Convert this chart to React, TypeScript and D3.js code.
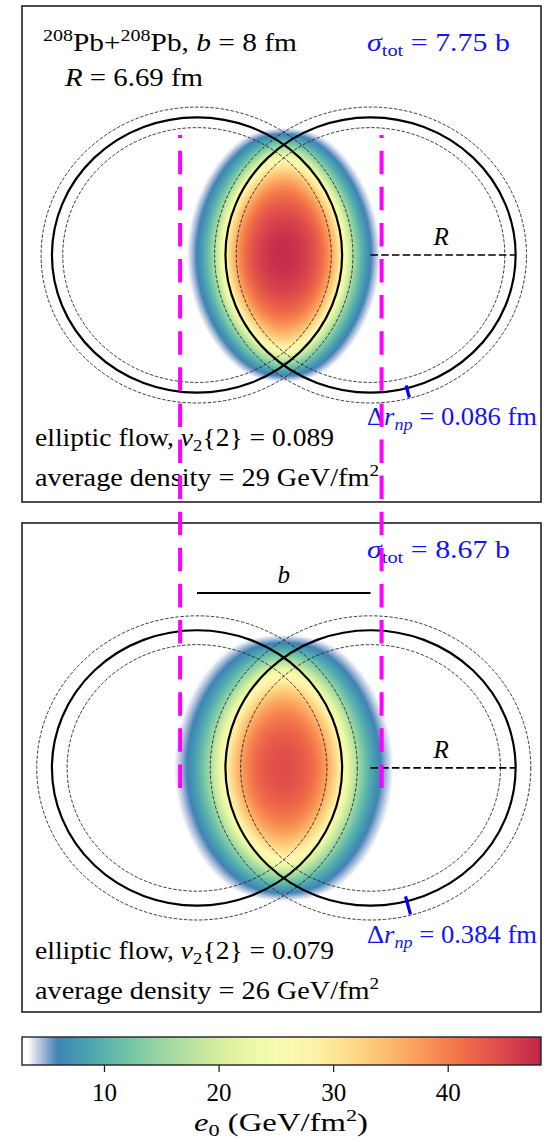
import React, { useMemo } from "react";
import * as d3 from "d3";

// collision set-up, both panels
const impactParam = 8; // fm
const nuclearRadius = 6.69; // fm
const panelIds = [0, 1];
const ringHalfWidth = [0.5, 0.7]; // fm, dashed rings at R +- this
const densityDiffuseness = [0.3, 0.4]; // fm, Woods-Saxon a for the density
const mixExponent = 0.4; // e ~ (T_A T_B)^p
const peakDensity = [47.5, 44.5]; // GeV/fm^2 at the centre
const sigmaTot = ["7.75", "8.67"];
const deltaRnp = ["0.086", "0.384"];
const ellipticFlow = ["0.089", "0.079"];
const avgDensity = ["29", "26"];
const skinTickRadii = [
  [6.55, 7.15],
  [6.45, 7.35],
];
const skinTickAngle = -75.5; // degrees, around the right nucleus
const guideX = [-4.78, 4.51]; // magenta guides
const guideYTop = 5.83; // in top-panel fm
const guideYBottom = -0.97; // in bottom-panel fm

// colour bar
const cbarDomain = [2.8, 48.1];
const cbarTicks = [10, 20, 30, 40];

// layout
const W = 555;
const H = 1142;
const frameX = [22, 541];
const panelY = [
  [6, 502],
  [523, 1012],
];
const panelYDomain = [
  [-12.0, 12.1],
  [-11.86, 11.9],
];
const xDomain = [-12.07, 11.86];
const cbarY = [1037, 1065];

const FONT = "'Liberation Serif', 'DejaVu Serif', serif";
const BLUE = "#1414f0";

const x = d3.scaleLinear().domain(xDomain).range(frameX);
const yScales = panelIds.map((i) =>
  d3.scaleLinear().domain(panelYDomain[i]).range([panelY[i][1], panelY[i][0]])
);
const cx = d3.scaleLinear().domain(cbarDomain).range(frameX);

const clamp = (v: number) => Math.max(0, Math.min(1, v));

// Spectral_r with a fade to white at the low end
function cmapRGBA(v: number) {
  const s = clamp(0.9 - (v - 6.3) * 0.0201);
  const c = d3.rgb(d3.interpolateSpectral(s));
  const a = clamp((v - 3.3) / 2.6);
  return [c.r, c.g, c.b, a * 255];
}

const LUT_N = 512;
const lut = d3.range(LUT_N).map((k) =>
  cmapRGBA(cbarDomain[0] + ((cbarDomain[1] - cbarDomain[0]) * k) / (LUT_N - 1))
);

function lutIndex(v: number) {
  const t = (v - cbarDomain[0]) / (cbarDomain[1] - cbarDomain[0]);
  return Math.max(0, Math.min(LUT_N - 1, Math.round(t * (LUT_N - 1))));
}

// Woods-Saxon thickness function, tabulated
function thicknessTable(R: number, a: number) {
  const ds = 0.02;
  const dz = 0.04;
  const table = d3.range(0, 20 + ds, ds).map((s) => {
    let sum = 0;
    for (let z = 0; z <= 20; z += dz) {
      const r = Math.sqrt(s * s + z * z);
      sum += (1 / (1 + Math.exp((r - R) / a))) * (z === 0 ? 0.5 : 1);
    }
    return 2 * sum * dz;
  });
  return (s: number) => {
    const f = s / ds;
    const k = Math.floor(f);
    if (k >= table.length - 1) return table[table.length - 1];
    const u = f - k;
    return table[k] * (1 - u) + table[k + 1] * u;
  };
}

function densityImage(i: number) {
  const y = yScales[i];
  const T = thicknessTable(nuclearRadius, densityDiffuseness[i]);
  const T0 = T(impactParam / 2);
  const w = frameX[1] - frameX[0];
  const h = panelY[i][1] - panelY[i][0];
  const canvas = document.createElement("canvas");
  canvas.width = w;
  canvas.height = h;
  const ctx = canvas.getContext("2d")!;
  const img = ctx.createImageData(w, h);
  for (let py = 0; py < h; py++) {
    const fy = y.invert(panelY[i][0] + py + 0.5);
    for (let px = 0; px < w; px++) {
      const fx = x.invert(frameX[0] + px + 0.5);
      const tA = T(Math.hypot(fx + impactParam / 2, fy)) / T0;
      const tB = T(Math.hypot(fx - impactParam / 2, fy)) / T0;
      const e = peakDensity[i] * Math.pow(tA * tB, mixExponent);
      const o = (py * w + px) * 4;
      if (e < cbarDomain[0]) continue;
      const c = lut[lutIndex(e)];
      img.data[o] = c[0];
      img.data[o + 1] = c[1];
      img.data[o + 2] = c[2];
      img.data[o + 3] = c[3];
    }
  }
  ctx.putImageData(img, 0, 0);
  return canvas.toDataURL();
}

function colorbarImage() {
  const w = frameX[1] - frameX[0];
  const canvas = document.createElement("canvas");
  canvas.width = w;
  canvas.height = 1;
  const ctx = canvas.getContext("2d")!;
  ctx.fillStyle = "#fff";
  ctx.fillRect(0, 0, w, 1);
  for (let px = 0; px < w; px++) {
    const c = cmapRGBA(cx.invert(frameX[0] + px + 0.5));
    ctx.fillStyle = `rgba(${c[0]},${c[1]},${c[2]},${c[3] / 255})`;
    ctx.fillRect(px, 0, 1, 1);
  }
  return canvas.toDataURL();
}

const Panel = ({ i, image }: { i: number; image: string }) => {
  const y = yScales[i];
  const rx = x(nuclearRadius) - x(0);
  const ry = y(0) - y(nuclearRadius);
  const centres = [-impactParam / 2, impactParam / 2];
  const hw = ringHalfWidth[i];
  const th = (skinTickAngle * Math.PI) / 180;
  const [r1, r2] = skinTickRadii[i];
  const off = i === 0 ? 0 : 513;
  return (
    <g>
      <image
        href={image}
        x={frameX[0]}
        y={panelY[i][0]}
        width={frameX[1] - frameX[0]}
        height={panelY[i][1] - panelY[i][0]}
      />
      {centres.map((c) => (
        <g key={c}>
          {[nuclearRadius - hw, nuclearRadius + hw].map((r) => (
            <ellipse
              key={r}
              cx={x(c)}
              cy={y(0)}
              rx={x(r) - x(0)}
              ry={y(0) - y(r)}
              fill="none"
              stroke="#222"
              strokeWidth={0.9}
              strokeDasharray="3.4 1.7"
            />
          ))}
          <ellipse
            cx={x(c)}
            cy={y(0)}
            rx={rx}
            ry={ry}
            fill="none"
            stroke="#000"
            strokeWidth={2.2}
          />
        </g>
      ))}
      {/* radius marker */}
      <line
        x1={x(impactParam / 2)}
        x2={x(impactParam / 2 + nuclearRadius)}
        y1={y(0)}
        y2={y(0)}
        stroke="#000"
        strokeWidth={1.6}
        strokeDasharray="7.5 3.2"
      />
      <text
        x={x(impactParam / 2 + 3.25)}
        y={y(0.49)}
        textAnchor="middle"
        fontFamily={FONT}
        fontSize={25}
        fontStyle="italic"
      >
        R
      </text>
      {/* neutron skin tick */}
      <line
        x1={x(impactParam / 2 + r1 * Math.cos(th))}
        y1={y(r1 * Math.sin(th))}
        x2={x(impactParam / 2 + r2 * Math.cos(th))}
        y2={y(r2 * Math.sin(th))}
        stroke="#0000ff"
        strokeWidth={3.2}
      />
      <text x={367} y={425 + off + (i === 0 ? 0 : 5)} fontFamily={FONT} fontSize={25} fill={BLUE} textLength={170} lengthAdjust="spacingAndGlyphs">
        <tspan>Δ</tspan>
        <tspan fontStyle="italic">r</tspan>
        <tspan fontStyle="italic" fontSize={17} dy={5}>np</tspan>
        <tspan dy={-5}>{" = " + deltaRnp[i] + " fm"}</tspan>
      </text>
      <text x={367} y={i === 0 ? 51 : 558} fontFamily={FONT} fontSize={25} fill={BLUE} textLength={143} lengthAdjust="spacingAndGlyphs">
        <tspan fontStyle="italic">σ</tspan>
        <tspan fontSize={17} dy={5}>tot</tspan>
        <tspan dy={-5}>{" = " + sigmaTot[i] + " b"}</tspan>
      </text>
      <text x={35} y={446 + off} fontFamily={FONT} fontSize={25} textLength={299} lengthAdjust="spacingAndGlyphs">
        <tspan>{"elliptic flow, "}</tspan>
        <tspan fontStyle="italic">v</tspan>
        <tspan fontSize={17} dy={5}>2</tspan>
        <tspan dy={-5}>{"{2} = " + ellipticFlow[i]}</tspan>
      </text>
      <text x={35} y={486 + off} fontFamily={FONT} fontSize={25} textLength={344} lengthAdjust="spacingAndGlyphs">
        <tspan>{"average density = " + avgDensity[i] + " GeV/fm"}</tspan>
        <tspan fontSize={17} dy={-10}>2</tspan>
      </text>
      {i === 0 ? (
        <g>
          <text x={43} y={51} fontFamily={FONT} fontSize={25} textLength={254} lengthAdjust="spacingAndGlyphs">
            <tspan fontSize={17} dy={-10}>208</tspan>
            <tspan dy={10}>Pb+</tspan>
            <tspan fontSize={17} dy={-10}>208</tspan>
            <tspan dy={10}>{"Pb, "}</tspan>
            <tspan fontStyle="italic">b</tspan>
            <tspan>{" = " + impactParam + " fm"}</tspan>
          </text>
          <text x={65} y={86} fontFamily={FONT} fontSize={25} textLength={138} lengthAdjust="spacingAndGlyphs">
            <tspan fontStyle="italic">R</tspan>
            <tspan>{" = " + nuclearRadius + " fm"}</tspan>
          </text>
        </g>
      ) : (
        <g>
          <line
            x1={x(-impactParam / 2)}
            x2={x(impactParam / 2)}
            y1={y(8.5)}
            y2={y(8.5)}
            stroke="#000"
            strokeWidth={2}
          />
          <text
            x={x(0)}
            y={y(8.99)}
            textAnchor="middle"
            fontFamily={FONT}
            fontSize={25}
            fontStyle="italic"
          >
            b
          </text>
        </g>
      )}
      <rect
        x={frameX[0]}
        y={panelY[i][0]}
        width={frameX[1] - frameX[0]}
        height={panelY[i][1] - panelY[i][0]}
        fill="none"
        stroke="#222"
        strokeWidth={1.6}
      />
    </g>
  );
};

export default function App() {
  const images = useMemo(() => panelIds.map((i) => densityImage(i)), []);
  const cbar = useMemo(() => colorbarImage(), []);
  const yTop = yScales[0];
  const yBot = yScales[1];
  return (
    <svg
      width={W}
      height={H}
      style={{ position: "absolute", left: 0, top: 0, background: "#fff" }}
    >
      {panelIds.map((i) => (
        <Panel key={i} i={i} image={images[i]} />
      ))}
      {guideX.map((g) => (
        <path
          key={g}
          d={`M${x(g)},${yBot(guideYBottom)}L${x(g)},${yTop(guideYTop)}`}
          stroke="#ff00ff"
          strokeWidth={4}
          strokeDasharray="23.5 12.6"
          fill="none"
        />
      ))}
      {/* colour bar */}
      <image
        href={cbar}
        x={frameX[0]}
        y={cbarY[0]}
        width={frameX[1] - frameX[0]}
        height={cbarY[1] - cbarY[0]}
        preserveAspectRatio="none"
      />
      <rect
        x={frameX[0]}
        y={cbarY[0]}
        width={frameX[1] - frameX[0]}
        height={cbarY[1] - cbarY[0]}
        fill="none"
        stroke="#222"
        strokeWidth={1.4}
      />
      {cbarTicks.map((t) => (
        <g key={t} transform={`translate(${cx(t)},${cbarY[1]})`}>
          <line y2={7} stroke="#222" strokeWidth={1.3} />
          <text y={36} textAnchor="middle" fontFamily={FONT} fontSize={25}>
            {t}
          </text>
        </g>
      ))}
      <text x={194} y={1131} fontFamily={FONT} fontSize={25} textLength={174} lengthAdjust="spacingAndGlyphs">
        <tspan fontStyle="italic">e</tspan>
        <tspan fontSize={17} dy={5}>0</tspan>
        <tspan dy={-5}>{" (GeV/fm"}</tspan>
        <tspan fontSize={17} dy={-10}>2</tspan>
        <tspan dy={10}>)</tspan>
      </text>
    </svg>
  );
}
